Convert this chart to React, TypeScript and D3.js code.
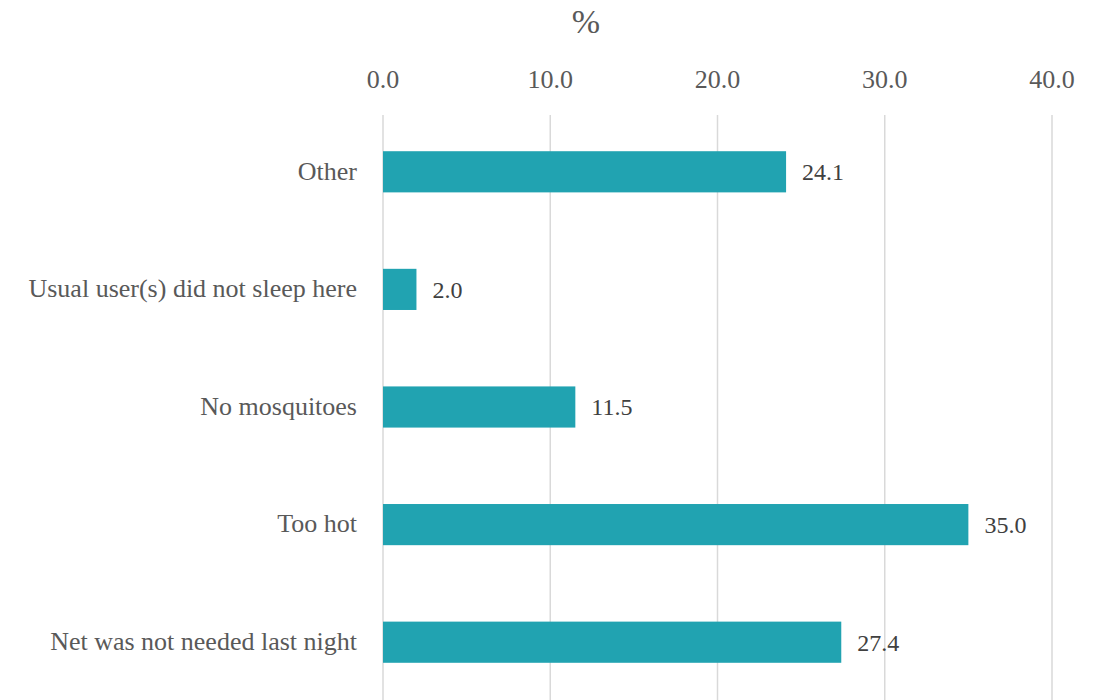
import React, { useEffect, useRef } from 'react';
import * as d3 from 'd3';

const categories = [
  'Other',
  'Usual user(s) did not sleep here',
  'No mosquitoes',
  'Too hot',
  'Net was not needed last night',
];
const values = [24.1, 2.0, 11.5, 35.0, 27.4];
const ticks = [0, 10, 20, 30, 40];
const axisTitle = '%';

export default function App() {
  const ref = useRef<SVGSVGElement>(null);

  useEffect(() => {
    const width = 1106;
    const height = 700;
    const margin = { top: 113, bottom: 0, left: 383, right: 54 };
    const font = "'Liberation Serif', 'Times New Roman', Times, serif";

    const svg = d3.select(ref.current);
    svg.selectAll('*').remove();

    const xScale = d3
      .scaleLinear()
      .domain([0, 40])
      .range([margin.left, width - margin.right]);

    const yScale = d3
      .scaleBand()
      .domain(categories)
      .range([margin.top, height + 1 - margin.bottom])
      .paddingInner(0.65)
      .paddingOuter(0.325);

    // gridlines
    svg
      .append('g')
      .selectAll('line')
      .data(ticks)
      .enter()
      .append('line')
      .attr('x1', (d) => xScale(d))
      .attr('x2', (d) => xScale(d))
      .attr('y1', 115)
      .attr('y2', height)
      .attr('stroke', '#d9d9d9')
      .attr('stroke-width', 1.5);

    // tick labels on top
    svg
      .append('g')
      .selectAll('text')
      .data(ticks)
      .enter()
      .append('text')
      .attr('x', (d) => xScale(d))
      .attr('y', 88)
      .attr('text-anchor', 'middle')
      .style('font-family', font)
      .attr('font-size', 26)
      .attr('fill', '#595959')
      .text((d) => d3.format('.1f')(d));

    svg
      .append('text')
      .attr('x', 586)
      .attr('y', 33)
      .attr('text-anchor', 'middle')
      .style('font-family', font)
      .attr('font-size', 34)
      .attr('fill', '#595959')
      .text(axisTitle);

    const rows = svg
      .append('g')
      .selectAll('g')
      .data(categories)
      .enter()
      .append('g');

    rows
      .append('rect')
      .attr('x', xScale(0))
      .attr('y', (d) => yScale(d) as number)
      .attr('width', (d, i) => xScale(values[i]) - xScale(0))
      .attr('height', yScale.bandwidth())
      .attr('fill', '#21a3b1');

    rows
      .append('text')
      .attr('x', (d, i) => xScale(values[i]) + 16)
      .attr('y', (d) => (yScale(d) as number) + yScale.bandwidth() / 2)
      .attr('dy', '0.35em')
      .style('font-family', font)
      .attr('font-size', 24)
      .attr('fill', '#404040')
      .text((d, i) => d3.format('.1f')(values[i]));

    rows
      .append('text')
      .attr('x', 357)
      .attr('y', (d) => (yScale(d) as number) + yScale.bandwidth() / 2)
      .attr('dy', '0.3em')
      .attr('text-anchor', 'end')
      .style('font-family', font)
      .attr('font-size', 26)
      .attr('fill', '#595959')
      .text((d) => d);
  }, []);

  return (
    <svg
      ref={ref}
      width={1106}
      height={700}
      style={{ position: 'absolute', left: 0, top: 0, background: '#fff' }}
    />
  );
}
